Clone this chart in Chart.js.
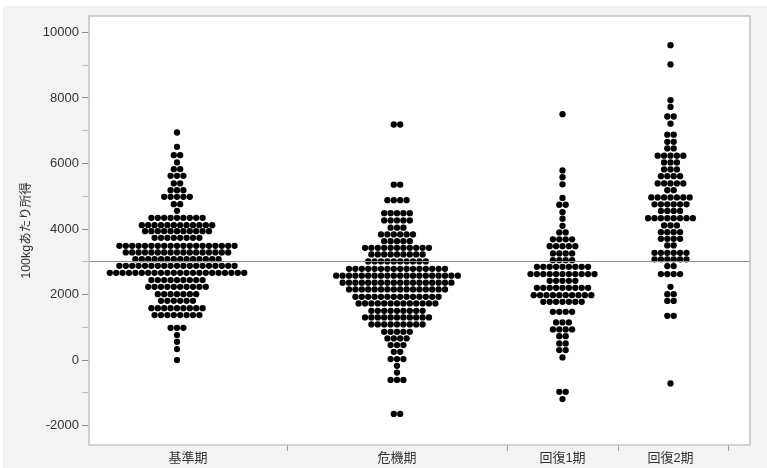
<!DOCTYPE html>
<html>
<head>
<meta charset="utf-8">
<script src="https://cdn.jsdelivr.net/npm/chart.js@4.4.0/dist/chart.umd.min.js"></script>
<style>
  body { margin: 0; background: #fff; }
</style>
</head>
<body>
<canvas id="swarmChart" width="767" height="468"></canvas>
<script>
const categories = ['基準期', '危機期', '回復1期', '回復2期'];

// each row of dots: its income level and how many dots sit on it
const baseLevels = [6946, 6507, 6254, 6031, 5827, 5622, 5391, 5186, 4982, 4759, 4555, 4341, 4118, 3935, 3731,
  3487, 3286, 3081, 2877, 2663, 2441, 2236, 2013, 1809, 1586, 1373, 985, 763, 558, 336, 0];
const baseCounts = [1, 1, 2, 1, 2, 3, 2, 3, 5, 2, 1, 9, 12, 11, 8,
  19, 17, 14, 19, 22, 9, 10, 7, 6, 9, 8, 3, 1, 1, 1, 1];

const crisisLevels = [7190, 5354, 4881, 4484, 4262, 4042, 3835, 3630, 3426, 3225, 3011, 2785, 2578, 2364, 2157,
  1931, 1730, 1504, 1303, 1089, 863, 662, 458, 253, 31, -174, -381, -604, -1641];
const crisisCounts = [2, 2, 4, 5, 5, 3, 6, 5, 11, 9, 10, 16, 20, 18, 16,
  14, 13, 9, 11, 9, 5, 4, 3, 2, 3, 1, 1, 3, 2];

const rec1Levels = [7505, 5787, 5583, 5363, 4948, 4741, 4515, 4314, 4097, 3896, 3685, 3478, 3255, 3051, 2846,
  2624, 2419, 2206, 1983, 1779, 1473, 1150, 937, 732, 509, 305, 82, -967, -1190];
const rec1Counts = [1, 1, 1, 1, 1, 2, 1, 1, 1, 2, 4, 5, 4, 4, 9,
  11, 5, 9, 10, 7, 4, 3, 4, 2, 2, 2, 1, 2, 1];

const rec2Levels = [9610, 9021, 7932, 7727, 7434, 7215, 6879, 6660, 6458, 6239, 6031, 5818, 5613, 5391, 5186, 4963,
  4753, 4551, 4332, 4109, 3905, 3700, 3499, 3273, 3075, 2868, 2624, 2236, 2013, 1806, 1351, -711];
const rec2Counts = [1, 1, 1, 1, 2, 1, 2, 2, 2, 5, 3, 3, 4, 5, 2, 7,
  6, 4, 8, 3, 4, 4, 2, 6, 6, 2, 4, 1, 2, 2, 2, 1];

const refValue = 3020;
const yTicks = [-2000, -1000, 0, 1000, 2000, 3000, 4000, 5000, 6000, 7000, 8000, 9000, 10000];

// x axis runs in pixel-like units; the first group is partly cut by the frame
const groupCenters = [110, 330, 495.5, 603.5];
const groupBounds = [220, 440, 551, 661];
const labelPos = [121, 330, 495.5, 603.5];
const dotStep = 6.4;

const FONT = '"Liberation Sans", "Noto Sans CJK JP", sans-serif';

function swarm(levels, counts, center) {
  const pts = [];
  levels.forEach((y, i) => {
    const n = counts[i];
    for (let j = 0; j < n; j++) {
      pts.push({ x: center + (j - (n - 1) / 2) * dotStep, y: y });
    }
  });
  return pts;
}

const groups = [
  [baseLevels, baseCounts],
  [crisisLevels, crisisCounts],
  [rec1Levels, rec1Counts],
  [rec2Levels, rec2Counts]
];

const datasets = groups.map((g, i) => ({
  label: categories[i],
  data: swarm(g[0], g[1], groupCenters[i]),
  backgroundColor: '#000',
  borderWidth: 0,
  pointRadius: 3.15
}));

const xTicks = labelPos.concat(groupBounds).sort((a, b) => a - b);

// grey page, white plot frame, mean line
const framePlugin = {
  id: 'frame',
  beforeDraw(chart) {
    const { ctx, chartArea: a, width, height } = chart;
    ctx.save();
    ctx.fillStyle = '#fff';
    ctx.fillRect(0, 0, width, height);
    ctx.fillStyle = '#f3f3f3';
    ctx.fillRect(3, 6, width - 3, height - 6);
    ctx.fillStyle = '#fff';
    ctx.fillRect(a.left, a.top, a.right - a.left, a.bottom - a.top);
    ctx.restore();
  },
  afterDatasetsDraw(chart) {
    const { ctx, chartArea: a, scales } = chart;
    const y = Math.round(scales.y.getPixelForValue(refValue)) + 0.5;
    ctx.save();
    ctx.strokeStyle = '#8c8c8c';
    ctx.lineWidth = 1;
    ctx.beginPath();
    ctx.moveTo(a.left, y);
    ctx.lineTo(a.right, y);
    ctx.stroke();
    ctx.strokeStyle = '#c4c4c4';
    ctx.lineWidth = 1.5;
    ctx.strokeRect(a.left, a.top, a.right - a.left, a.bottom - a.top);
    ctx.restore();
  }
};

new Chart(document.getElementById('swarmChart'), {
  type: 'scatter',
  data: { datasets: datasets },
  options: {
    responsive: false,
    animation: false,
    layout: { padding: { left: 0, top: 16, right: 17, bottom: 0 } },
    plugins: {
      legend: { display: false },
      tooltip: { enabled: false }
    },
    scales: {
      x: {
        type: 'linear',
        min: 22,
        max: 683,
        afterBuildTicks: (s) => { s.ticks = xTicks.map(v => ({ value: v })); },
        afterFit: (s) => { s.height = 23; },
        border: { display: false },
        grid: {
          drawOnChartArea: false,
          tickLength: 6,
          color: (c) => groupBounds.includes(c.tick && c.tick.value) ? '#9a9a9a' : 'rgba(0,0,0,0)'
        },
        ticks: {
          autoSkip: false,
          maxRotation: 0,
          padding: 0,
          color: '#333',
          font: { family: FONT, size: 13 },
          callback: (v) => {
            const k = labelPos.indexOf(v);
            return k >= 0 ? categories[k] : '';
          }
        }
      },
      y: {
        min: -2590,
        max: 10500,
        afterBuildTicks: (s) => { s.ticks = yTicks.map(v => ({ value: v })); },
        afterFit: (s) => { s.width = 89; },
        border: { display: false },
        grid: {
          drawOnChartArea: false,
          tickLength: 7,
          color: (c) => (c.tick && c.tick.value % 2000 === 0) ? '#8c8c8c' : '#bdbdbd'
        },
        ticks: {
          padding: 3,
          color: '#333',
          font: { family: FONT, size: 13 },
          callback: (v) => (v % 2000 === 0 ? String(v) : '')
        },
        title: {
          display: true,
          text: '100kgあたり所得',
          color: '#333',
          font: { family: FONT, size: 12.5 },
          padding: { top: 19, bottom: 0 }
        }
      }
    }
  },
  plugins: [framePlugin]
});
</script>
</body>
</html>
